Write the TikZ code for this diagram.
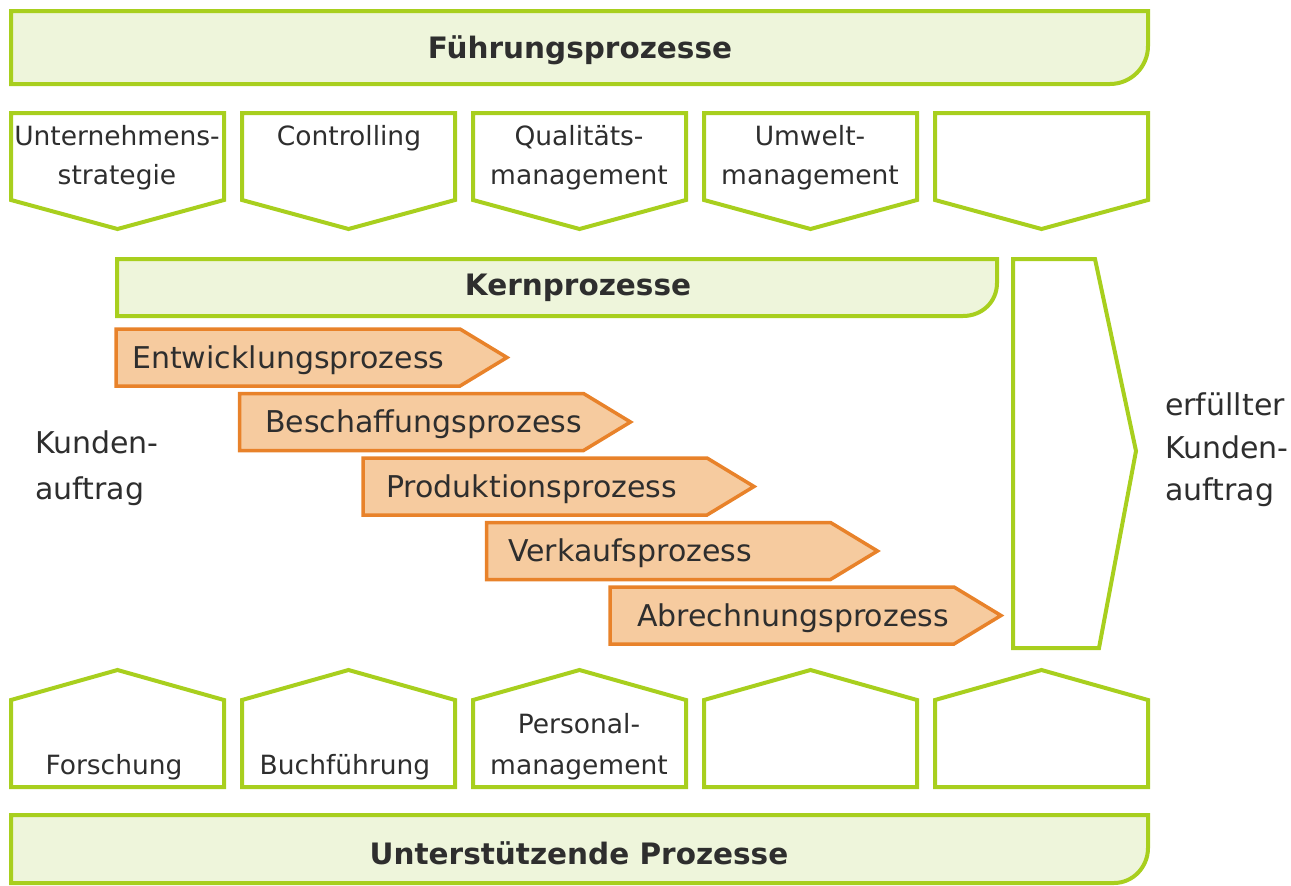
\documentclass[tikz,border=0pt]{standalone}
\usepackage{fontspec}
\setmainfont{DejaVu Sans}
\definecolor{gline}{HTML}{A8CF1E}
\definecolor{gfill}{HTML}{EEF5DB}
\definecolor{oline}{HTML}{E8822A}
\definecolor{ofill}{HTML}{F6CB9F}
\definecolor{txt}{HTML}{2E2E2E}
\begin{document}
\begin{tikzpicture}[x=1pt,y=-1pt,
  gshape/.style={draw=gline,line width=4pt,line join=miter},
  gbar/.style={gshape,fill=gfill},
  oarrow/.style={draw=oline,fill=ofill,line width=3.5pt,line join=miter},
  lbl/.style={text=txt,font=\fontsize{26.5}{39}\selectfont,align=center,inner sep=0pt},
  side/.style={text=txt,font=\fontsize{30}{40}\selectfont,anchor=base west,inner sep=0pt},
  head/.style={text=txt,font=\fontsize{29.5}{34}\selectfont\bfseries,inner sep=0pt},
  otxt/.style={text=txt,font=\fontsize{30}{36}\selectfont,anchor=base west,inner sep=0pt}]
\useasboundingbox (0,0) rectangle (1291,886);
% top bar
\draw[gbar] (11,11) -- (1148,11) -- (1148,46) .. controls (1148,67) and (1131,84) .. (1110,84) -- (11,84) -- cycle;
\node[head] (fuehr) at (580,50) {Führungsprozesse};
% top pentagons
\foreach \x/\n in {11/t1,242/t2,473/t3,704/t4,935/t5}{
  \draw[gshape] (\x,113) -- ++(213,0) -- ++(0,87) -- ++(-106.5,29) -- ++(-106.5,-29) -- cycle;
}
\node[lbl,anchor=base] (tl1) at (117,145) {Unternehmens-};
\node[lbl,anchor=base] (tl1b) at (117,184) {strategie};
\node[lbl,anchor=base] (tl2) at (349,145) {Controlling};
\node[lbl,anchor=base] (tl3) at (579,145) {Qualitäts-};
\node[lbl,anchor=base] (tl3b) at (579,184) {management};
\node[lbl,anchor=base] (tl4) at (810,145) {Umwelt-};
\node[lbl,anchor=base] (tl4b) at (810,184) {management};
% Kern bar
\draw[gbar] (117,259) -- (997,259) -- (997,283) .. controls (997,302) and (982,316) .. (963,316) -- (117,316) -- cycle;
\node[head] (kern) at (578,288) {Kernprozesse};
% big chevron
\draw[gshape] (1013,259) -- (1095,259) -- (1136,451) -- (1099,648) -- (1013,648) -- cycle;
% orange arrows
\foreach \i in {0,...,4}{
  \pgfmathsetmacro{\xa}{116+123.5*\i}
  \pgfmathsetmacro{\ya}{329+64.5*\i}
  \draw[oarrow] (\xa,\ya) -- ++(344,0) -- ++(47,28.5) -- ++(-47,28.5) -- ++(-344,0) -- cycle;
}
\node[otxt] (p1) at (132,368) {Entwicklungsprozess};
\node[otxt] (p2) at (265,432.5) {Beschaffungsprozess};
\node[otxt] (p3) at (386,497) {Produktionsprozess};
\node[otxt] (p4) at (508,561.5) {Verkaufsprozess};
\node[otxt] (p5) at (637,626) {Abrechnungsprozess};
% side labels
\node[side] (kin) at (35,453) {Kunden-};
\node[side] (kin2) at (35,499) {auftrag};
\node[side] (kout) at (1165,415) {erfüllter};
\node[side] (kout2) at (1165,458) {Kunden-};
\node[side] (kout3) at (1165,500) {auftrag};
% bottom pentagons
\foreach \x/\n in {11/b1,242/b2,473/b3,704/b4,935/b5}{
  \draw[gshape] (\x,787) -- ++(213,0) -- ++(0,-87) -- ++(-106.5,-30) -- ++(-106.5,30) -- cycle;
}
\node[lbl,anchor=base] (bl1) at (114,774) {Forschung};
\node[lbl,anchor=base] (bl2) at (345,774) {Buchführung};
\node[lbl,anchor=base] (bl3) at (579,733) {Personal-};
\node[lbl,anchor=base] (bl3b) at (579,774) {management};
% bottom bar
\draw[gbar] (11,815) -- (1148,815) -- (1148,848) .. controls (1148,867) and (1133,883) .. (1114,883) -- (11,883) -- cycle;
\node[head] (unter) at (579,853) {Unterstützende Prozesse};
\end{tikzpicture}
\end{document}
